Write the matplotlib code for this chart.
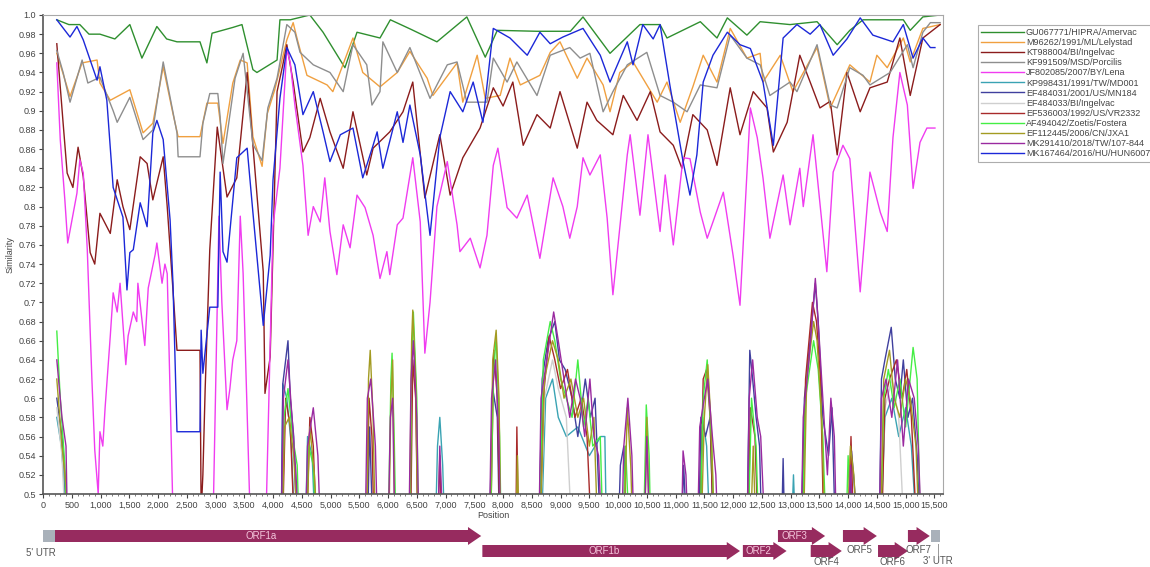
import numpy as np
import matplotlib
matplotlib.use('Agg')
import matplotlib.pyplot as plt
from matplotlib.lines import Line2D

plt.rcParams['font.family'] = ['Liberation Sans', 'DejaVu Sans']

# similarity values, (position, similarity)
gu067771 = [(240,0.995),(450,0.99),(640,0.99),(800,0.98),(990,0.98),(1250,0.975),(1510,0.99),(1720,0.955),
            (1980,0.988),(2150,0.975),(2330,0.972),(2730,0.972),(2850,0.95),(2940,0.981),(3300,0.987),(3460,0.99),
            (3650,0.943),(3720,0.94),(4070,0.953),(4120,0.995),(4300,0.995),(4640,1.0),(4870,0.982),(5250,0.945),
            (5460,0.982),(5860,0.976),(6040,0.995),(6400,0.985),(6850,0.972),(7370,0.998),(7690,0.956),(7900,0.984),
            (8590,0.983),(9170,0.983),(9390,0.998),(9860,0.96),(10380,0.99),(10730,0.99),(10850,0.976),(11430,0.993),
            (11720,0.976),(11900,0.997),(12240,0.979),(12470,0.993),(12990,0.99),(13460,0.993),(13810,0.969),
            (14030,0.984),(14260,0.995),(14960,0.995),(15080,0.984),(15300,0.998),(15600,1.0)]

m96262 = [(240,0.96),(470,0.915),(680,0.95),(940,0.953),(990,0.929),(1170,0.911),(1510,0.922),(1740,0.877),
          (1910,0.887),(2090,0.946),(2260,0.897),(2350,0.873),(2730,0.873),(2850,0.908),(3040,0.908),(3130,0.866),
          (3300,0.929),(3430,0.953),(3550,0.95),(3650,0.873),(3810,0.842),(3900,0.897),(4030,0.922),(4240,0.974),
          (4350,0.992),(4420,0.975),(4590,0.937),(4940,0.927),(5040,0.92),(5390,0.976),(5560,0.94),(5860,0.925),
          (6160,0.94),(6380,0.962),(6680,0.934),(6780,0.916),(7200,0.95),(7300,0.909),(7550,0.958),(7690,0.913),
          (7950,0.916),(8120,0.955),(8300,0.927),(8640,0.937),(8820,0.961),(8990,0.972),(9290,0.934),(9460,0.955),
          (9740,0.927),(9860,0.899),(10030,0.94),(10260,0.951),(10680,0.909),(10850,0.93),(11080,0.888),
          (11300,0.925),(11480,0.958),(11720,0.93),(11950,0.986),(12240,0.955),(12470,0.96),(12520,0.93),
          (12820,0.958),(13040,0.92),(13460,0.966),(13690,0.903),(14030,0.948),(14380,0.93),(14500,0.958),
          (14680,0.945),(14960,0.976),(15080,0.951),(15300,0.986),(15600,0.99)]

kt988004 = [(240,0.97),(300,0.925),(350,0.887),(420,0.835),(520,0.82),(610,0.862),(700,0.831),(820,0.752),
            (900,0.74),(990,0.793),(1170,0.772),(1290,0.828),(1390,0.80),(1510,0.776),(1690,0.852),(1810,0.845),
            (1910,0.807),(2090,0.852),(2160,0.80),(2260,0.713),(2330,0.65),(2730,0.65),(2750,0.48),(2780,0.52),
            (2820,0.61),(2900,0.755),(3030,0.883),(3200,0.81),(3370,0.83),(3550,0.94),(3650,0.864),(3830,0.732),
            (3860,0.605),(3950,0.643),(4070,0.92),(4170,0.948),(4240,0.969),(4350,0.93),(4520,0.857),(4640,0.872),
            (4820,0.913),(4990,0.878),(5220,0.84),(5390,0.899),(5630,0.833),(5740,0.861),(6030,0.878),(6260,0.899),
            (6430,0.93),(6640,0.809),(6900,0.875),(7080,0.812),(7300,0.851),(7600,0.882),(7830,0.924),(8000,0.905),
            (8170,0.93),(8350,0.864),(8590,0.896),(8820,0.882),(8990,0.92),(9290,0.861),(9460,0.909),(9630,0.89),
            (9910,0.875),(10090,0.916),(10330,0.89),(10560,0.92),(10730,0.878),(10960,0.864),(11110,0.84),
            (11300,0.896),(11550,0.88),(11720,0.843),(11950,0.924),(12120,0.875),(12350,0.92),(12590,0.903),
            (12700,0.857),(12940,0.888),(13160,0.958),(13340,0.93),(13510,0.903),(13690,0.91),(13810,0.854),
            (13980,0.94),(14210,0.899),(14380,0.924),(14680,0.93),(14900,0.976),(15080,0.916),(15300,0.976),
            (15600,0.99)]

kf991509 = [(240,0.963),(350,0.94),(470,0.909),(680,0.953),(780,0.929),(990,0.935),(1220,0.90),(1290,0.888),
            (1510,0.914),(1740,0.87),(1910,0.88),(2090,0.951),(2330,0.877),(2350,0.852),(2730,0.852),(2780,0.887),
            (2900,0.918),(3040,0.918),(3080,0.894),(3130,0.845),(3340,0.934),(3480,0.96),(3650,0.865),(3810,0.848),
            (3910,0.903),(4070,0.934),(4240,0.99),(4380,0.982),(4470,0.961),(4700,0.948),(4990,0.94),(5220,0.92),
            (5390,0.969),(5630,0.948),(5720,0.906),(5860,0.92),(5910,0.972),(6160,0.94),(6380,0.966),(6730,0.913),
            (7030,0.948),(7200,0.951),(7370,0.909),(7720,0.909),(7830,0.955),(8070,0.93),(8240,0.951),(8590,0.916),
            (8820,0.958),(9160,0.966),(9340,0.955),(9510,0.96),(9740,0.899),(9910,0.92),(10160,0.948),(10500,0.961),
            (10730,0.916),(10960,0.909),(11200,0.899),(11430,0.927),(11720,0.924),(11950,0.979),(12240,0.955),
            (12470,0.948),(12640,0.916),(12990,0.93),(13110,0.92),(13460,0.969),(13690,0.906),(13810,0.903),
            (14030,0.945),(14260,0.937),(14380,0.927),(14730,0.94),(15030,0.969),(15130,0.945),(15300,0.982),
            (15430,0.992),(15600,0.992)]

jf802085 = [(240,0.95),(300,0.87),(380,0.807),(430,0.762),(590,0.814),(640,0.849),(700,0.835),(770,0.755),
            (850,0.62),(900,0.546),(960,0.50),(990,0.565),(1040,0.55),(1080,0.59),(1110,0.615),(1170,0.665),
            (1220,0.71),(1290,0.69),(1340,0.72),(1440,0.635),(1480,0.665),(1570,0.69),(1630,0.68),(1650,0.72),
            (1770,0.655),(1830,0.715),(1950,0.75),(1980,0.762),(2070,0.72),(2120,0.74),(2160,0.73),(2260,0.48),
            (2960,0.48),(3030,0.70),(3060,0.79),(3110,0.70),(3200,0.588),(3250,0.61),(3300,0.64),(3370,0.66),
            (3430,0.79),(3480,0.73),(3600,0.48),(3880,0.48),(4000,0.78),(4120,0.84),(4240,0.965),(4300,0.95),
            (4380,0.906),(4520,0.843),(4610,0.77),(4700,0.80),(4820,0.784),(4900,0.83),(4990,0.774),(5110,0.729),
            (5220,0.781),(5340,0.757),(5460,0.812),(5600,0.799),(5740,0.77),(5860,0.725),(5980,0.753),(6030,0.729),
            (6160,0.781),(6260,0.788),(6430,0.851),(6560,0.784),(6640,0.647),(6730,0.70),(6850,0.80),(7030,0.847),
            (7200,0.781),(7250,0.753),(7430,0.767),(7600,0.736),(7720,0.77),(7830,0.843),(7910,0.861),(8070,0.799),
            (8240,0.788),(8420,0.812),(8640,0.746),(8870,0.83),(9040,0.80),(9160,0.767),(9290,0.80),(9390,0.851),
            (9510,0.833),(9690,0.854),(9810,0.788),(9910,0.708),(10160,0.854),(10210,0.875),(10380,0.791),
            (10520,0.875),(10730,0.774),(10820,0.833),(10960,0.76),(11130,0.851),(11250,0.85),(11430,0.794),
            (11550,0.767),(11650,0.784),(11830,0.815),(12000,0.749),(12120,0.697),(12300,0.903),(12420,0.872),
            (12520,0.83),(12640,0.767),(12870,0.833),(12990,0.781),(13160,0.84),(13220,0.80),(13390,0.875),
            (13630,0.732),(13740,0.836),(13910,0.864),(14030,0.85),(14210,0.711),(14380,0.836),(14560,0.794),
            (14680,0.774),(14780,0.872),(14900,0.94),(15030,0.906),(15130,0.819),(15250,0.867),(15370,0.882),
            (15510,0.882)]

kp998431 = [(240,0.58),(320,0.55),(380,0.50),(400,0.45),(4140,0.45),(4170,0.615),(4240,0.60),(4320,0.55),(4380,0.45),
            (4560,0.45),(4600,0.56),(4680,0.54),(4740,0.45),(6820,0.45),(6860,0.55),(6900,0.58),(6950,0.53),(6990,0.45),
            (8660,0.45),(8740,0.60),(8860,0.62),(8960,0.58),(9100,0.56),(9300,0.57),(9500,0.54),(9700,0.56),(9770,0.56),
            (9800,0.45),(11420,0.45),(11470,0.58),(11540,0.55),(11600,0.45),(13010,0.45),(13050,0.52),(13090,0.45),
            (14560,0.45),(14640,0.58),(14760,0.60),(14880,0.56),(15000,0.59),(15100,0.55),(15200,0.45)]

ef484031 = [(240,0.60),(330,0.56),(380,0.52),(420,0.45),(4140,0.45),(4170,0.615),(4260,0.66),(4300,0.60),(4360,0.56),
            (4420,0.45),(5640,0.45),(5680,0.57),(5740,0.45),(7760,0.45),(7820,0.61),(7900,0.58),(7940,0.45),
            (8620,0.45),(8680,0.62),(8780,0.66),(8900,0.68),(8980,0.64),(9080,0.63),(9200,0.60),(9300,0.56),(9430,0.62),
            (9520,0.58),(9600,0.60),(9700,0.45),(10000,0.45),(10040,0.53),(10100,0.55),(10150,0.45),(11100,0.45),
            (11140,0.53),(11200,0.45),(11400,0.45),(11440,0.58),(11520,0.56),(11600,0.58),(11660,0.45),(12240,0.45),
            (12290,0.65),(12340,0.62),(12400,0.58),(12460,0.55),(12500,0.45),(12840,0.45),(12870,0.537),(12900,0.45),
            (13180,0.45),(13240,0.60),(13340,0.66),(13430,0.72),(13480,0.68),(13560,0.58),(13660,0.54),(13720,0.59),
            (13780,0.45),(14020,0.45),(14060,0.545),(14120,0.50),(14160,0.45),(14540,0.45),(14580,0.62),(14640,0.64),
            (14750,0.674),(14820,0.62),(14900,0.60),(14960,0.64),(15040,0.58),(15120,0.60),(15200,0.54),(15260,0.45)]

ef484033 = [(240,0.59),(330,0.54),(400,0.45),(8640,0.45),(8720,0.60),(8860,0.64),(8960,0.61),(9100,0.58),(9200,0.45),
            (14560,0.45),(14640,0.59),(14760,0.62),(14880,0.58),(14980,0.45)]

ef536003 = [(4160,0.45),(4220,0.60),(4300,0.57),(4380,0.45),(4580,0.45),(4640,0.58),(4700,0.55),(4760,0.45),
            (5620,0.45),(5670,0.60),(5720,0.56),(5760,0.45),(6390,0.45),(6430,0.64),(6480,0.60),(6520,0.45),
            (6860,0.45),(6900,0.54),(6940,0.45),(7780,0.45),(7840,0.65),(7900,0.60),(7950,0.45),(8220,0.45),
            (8240,0.57),(8270,0.45),(8640,0.45),(8700,0.60),(8800,0.665),(8900,0.64),(9000,0.61),(9120,0.63),
            (9250,0.58),(9360,0.60),(9460,0.56),(9540,0.45),(11420,0.45),(11480,0.62),(11540,0.63),(11600,0.58),
            (11660,0.45),(12260,0.45),(12300,0.59),(12380,0.56),(12440,0.45),(13200,0.45),(13260,0.62),(13380,0.70),
            (13450,0.68),(13520,0.62),(13580,0.45),(14000,0.45),(14050,0.56),(14100,0.45),(14580,0.45),(14640,0.60),
            (14720,0.62),(14840,0.64),(14940,0.60),(15020,0.63),(15100,0.58),(15200,0.45)]

af494042 = [(240,0.67),(300,0.60),(380,0.53),(420,0.45),(4150,0.45),(4190,0.58),(4260,0.61),(4340,0.56),(4420,0.53),
            (4460,0.45),(4560,0.45),(4620,0.55),(4700,0.53),(4760,0.45),(6000,0.45),(6050,0.62),(6070,0.647),(6110,0.55),
            (6140,0.45),(6380,0.45),(6410,0.64),(6440,0.69),(6500,0.60),(6530,0.45),(7780,0.45),(7830,0.62),(7880,0.665),
            (7940,0.56),(7970,0.45),(8620,0.45),(8700,0.64),(8820,0.68),(8900,0.66),(9000,0.62),(9100,0.60),(9200,0.58),
            (9300,0.64),(9400,0.57),(9480,0.60),(9560,0.55),(9690,0.56),(9740,0.45),(10080,0.45),(10130,0.55),(10200,0.45),
            (10440,0.45),(10490,0.593),(10540,0.54),(10570,0.45),(11420,0.45),(11480,0.60),(11550,0.64),(11620,0.56),
            (11680,0.45),(12260,0.45),(12320,0.60),(12400,0.55),(12450,0.45),(13200,0.45),(13260,0.60),(13400,0.66),
            (13480,0.63),(13560,0.56),(13620,0.45),(13960,0.45),(14000,0.54),(14060,0.45),(14560,0.45),(14620,0.60),
            (14700,0.63),(14800,0.59),(14900,0.62),(15000,0.57),(15130,0.653),(15200,0.62),(15260,0.45)]

ef112445 = [(240,0.62),(330,0.55),(400,0.51),(430,0.45),(4150,0.45),(4200,0.57),(4280,0.58),(4360,0.54),(4440,0.45),
            (4580,0.45),(4640,0.57),(4720,0.52),(4780,0.45),(5630,0.45),(5660,0.62),(5690,0.65),(5740,0.58),(5780,0.45),
            (6010,0.45),(6050,0.60),(6080,0.64),(6120,0.45),(6370,0.45),(6410,0.66),(6430,0.692),(6480,0.62),(6520,0.45),
            (7770,0.45),(7820,0.64),(7880,0.671),(7930,0.60),(7960,0.45),(8220,0.45),(8250,0.54),(8280,0.45),
            (8640,0.45),(8720,0.62),(8860,0.66),(8960,0.64),(9060,0.60),(9180,0.62),(9300,0.58),(9400,0.60),(9500,0.55),
            (9580,0.58),(9650,0.45),(10100,0.45),(10160,0.59),(10220,0.53),(10260,0.45),(10460,0.45),(10500,0.58),
            (10550,0.45),(11440,0.45),(11500,0.58),(11560,0.635),(11620,0.57),(11680,0.45),(12300,0.45),(12350,0.55),
            (12400,0.45),(13220,0.45),(13280,0.62),(13400,0.68),(13460,0.66),(13540,0.58),(13600,0.45),(13980,0.45),
            (14040,0.55),(14100,0.52),(14160,0.45),(14560,0.45),(14620,0.62),(14720,0.65),(14800,0.60),(14900,0.58),
            (15000,0.62),(15080,0.60),(15180,0.55),(15240,0.45)]

mk291410 = [(240,0.64),(330,0.58),(400,0.55),(430,0.45),(4140,0.45),(4180,0.60),(4260,0.64),(4330,0.58),(4400,0.52),
            (4450,0.45),(4560,0.45),(4600,0.55),(4700,0.59),(4780,0.54),(4830,0.45),(5600,0.45),(5640,0.60),(5700,0.62),
            (5780,0.55),(5820,0.45),(6000,0.45),(6040,0.58),(6080,0.60),(6120,0.45),(6360,0.45),(6400,0.62),(6440,0.66),
            (6500,0.58),(6540,0.45),(6860,0.45),(6900,0.55),(6960,0.45),(7760,0.45),(7800,0.60),(7870,0.64),(7930,0.55),
            (7960,0.45),(8620,0.45),(8660,0.60),(8760,0.64),(8880,0.69),(8960,0.66),(9060,0.62),(9160,0.58),(9260,0.62),
            (9340,0.60),(9420,0.56),(9510,0.62),(9580,0.56),(9660,0.54),(9720,0.45),(10060,0.45),(10100,0.55),
            (10170,0.60),(10240,0.54),(10280,0.45),(10450,0.45),(10500,0.56),(10550,0.45),(11100,0.45),(11130,0.545),
            (11180,0.52),(11220,0.45),(11380,0.45),(11420,0.57),(11500,0.60),(11560,0.62),(11640,0.56),(11700,0.52),
            (11740,0.45),(12240,0.45),(12280,0.60),(12340,0.64),(12420,0.58),(12480,0.56),(12560,0.45),(13180,0.45),
            (13220,0.58),(13320,0.64),(13430,0.725),(13500,0.66),(13560,0.60),(13640,0.52),(13700,0.60),(13760,0.56),
            (13800,0.45),(14000,0.45),(14040,0.53),(14100,0.45),(14540,0.45),(14580,0.60),(14660,0.62),(14760,0.58),
            (14860,0.64),(14960,0.55),(15050,0.62),(15150,0.60),(15220,0.55),(15280,0.45)]

mk167464 = [(240,0.995),(470,0.977),(590,0.988),(700,0.974),(940,0.932),(990,0.946),(1110,0.911),(1220,0.82),
            (1390,0.789),(1460,0.713),(1510,0.752),(1570,0.755),(1690,0.804),(1810,0.779),(1910,0.877),(1980,0.89),
            (2090,0.87),(2210,0.786),(2260,0.72),(2330,0.565),(2730,0.565),(2750,0.671),(2780,0.626),(2900,0.695),
            (3040,0.695),(3080,0.836),(3130,0.753),(3200,0.742),(3370,0.851),(3550,0.861),(3650,0.794),(3830,0.676),
            (3950,0.749),(4000,0.828),(4120,0.913),(4240,0.966),(4380,0.948),(4520,0.896),(4700,0.92),(4870,0.878),
            (4990,0.847),(5170,0.875),(5390,0.882),(5560,0.83),(5740,0.864),(5810,0.878),(5910,0.84),(6160,0.899),
            (6260,0.867),(6380,0.906),(6560,0.854),(6730,0.77),(6900,0.872),(7080,0.92),(7300,0.899),(7480,0.93),
            (7650,0.888),(7830,0.986),(8120,0.976),(8420,0.958),(8640,0.982),(8820,0.97),(9040,0.977),(9390,0.986),
            (9690,0.958),(9860,0.93),(10160,0.972),(10260,0.948),(10430,0.99),(10610,0.975),(10730,0.99),(10900,0.927),
            (11130,0.847),(11250,0.812),(11370,0.854),(11480,0.93),(11650,0.958),(11900,0.982),(12120,0.969),
            (12300,0.965),(12520,0.93),(12700,0.864),(12870,0.976),(13110,0.99),(13340,0.98),(13510,0.99),
            (13740,0.958),(13980,0.975),(14210,0.997),(14430,0.979),(14780,0.972),(14960,0.99),(15130,0.955),
            (15300,0.976),(15430,0.966),(15510,0.966)]

names = ['GU067771/HIPRA/Amervac', 'M96262/1991/ML/Lelystad', 'KT988004/BI/Ingelvac', 'KF991509/MSD/Porcilis',
         'JF802085/2007/BY/Lena', 'KP998431/1991/TW/MD001', 'EF484031/2001/US/MN184', 'EF484033/BI/Ingelvac',
         'EF536003/1992/US/VR2332', 'AF494042/Zoetis/Fostera', 'EF112445/2006/CN/JXA1', 'MK291410/2018/TW/107-844',
         'MK167464/2016/HU/HUN60077/16']
series = [gu067771, m96262, kt988004, kf991509, jf802085, kp998431, ef484031, ef484033,
          ef536003, af494042, ef112445, mk291410, mk167464]
colors = ['#2f8f2f', '#f0a040', '#8b1c1c', '#8e8e8e', '#f03cf0', '#3aa3b3', '#40409e', '#cfcfcf',
          '#a82a2a', '#44ee44', '#a39b22', '#9a2aa0', '#1c28d8']

# genome map: name, start, end, row (0 upper, 1 lower)
orfs = [('ORF1a', 200, 7620, 0), ('ORF1b', 7640, 12120, 1), ('ORF2', 12170, 12930, 1),
        ('ORF3', 12780, 13600, 0), ('ORF4', 13350, 13890, 1), ('ORF5', 13910, 14500, 0),
        ('ORF6', 14520, 15040, 1), ('ORF7', 15040, 15420, 0)]
utrs = [("5' UTR", 0, 200), ("3' UTR", 15440, 15600)]

fig = plt.figure(figsize=(11.5, 5.67), dpi=100)
ax = fig.add_axes([43/1150, 1-494/567, 900/1150, 479/567])

for pts, c, n in zip(series, colors, names):
    a = np.array(pts)
    ax.plot(a[:, 0], a[:, 1], color=c, lw=1.0, label=n)

ax.set_xlim(0, 15650)
ax.set_ylim(0.5, 1.0)
yt = np.round(np.arange(0.5, 1.0001, 0.02), 2)
ax.set_yticks(yt)
ax.set_yticklabels(['1.0' if v == 1.0 else ('%.2f' % v).rstrip('0') for v in yt])
xt = np.arange(0, 15501, 500)
ax.set_xticks(xt)
ax.set_xticklabels(['{:,}'.format(v) for v in xt])
ax.set_xticks(np.arange(0, 15650, 100), minor=True)
ax.tick_params(labelsize=6.5, colors='#444444', length=3, width=0.8, pad=2)
ax.tick_params(which='minor', length=1.5, width=0.6, colors='#666666')
for s in ['left', 'bottom']:
    ax.spines[s].set_color('#555555')
    ax.spines[s].set_linewidth(1.2)
for s in ['top', 'right']:
    ax.spines[s].set_color('#a8a8a8')
ax.set_xlabel('Position', fontsize=6.5, color='#444444', labelpad=1)
ax.set_ylabel('Similarity', fontsize=6.5, color='#444444', labelpad=3)

handles = [Line2D([], [], color=c, lw=1.0) for c in colors]
leg = fig.legend(handles, names, loc='upper left', bbox_to_anchor=(973/1150, 1-20/567),
                 fontsize=6.5, frameon=True, fancybox=False, edgecolor='#999999',
                 handlelength=4.8, handletextpad=0.15, labelspacing=0.12, borderpad=0.4)
leg.get_frame().set_linewidth(0.8)
for t in leg.get_texts():
    t.set_color('#444444')

# genome organisation below the plot
gax = fig.add_axes([43/1150, 0, 900/1150, 67/567])
gax.set_xlim(0, 15650)
gax.set_ylim(67, 0)
gax.axis('off')
row_y = [36, 51]
body = 6
head = 9
headlen = 230
orf_col = '#972b5f'
for name, s, e, r in orfs:
    y = row_y[r]
    hs = e - headlen
    xs = [s, hs, hs, e, hs, hs, s]
    ys = [y-body, y-body, y-head, y, y+head, y+body, y+body]
    gax.fill(xs, ys, color=orf_col, lw=0)
    if name in ('ORF1a', 'ORF1b', 'ORF2', 'ORF3'):
        gax.text((s+hs)/2, y, name, ha='center', va='center', fontsize=7, color='#f4c6dc')
    elif r == 0:
        gax.text((s+e)/2, y+14, name, ha='center', va='center', fontsize=7, color='#555555')
    else:
        gax.text((s+e)/2, y+11, name, ha='center', va='center', fontsize=7, color='#555555')
for name, s, e in utrs:
    y = row_y[0]
    gax.fill([s, e, e, s], [y-body, y-body, y+body, y+body], color='#a9b1ba', lw=0)
gax.text(-30, 53, "5' UTR", ha='center', va='center', fontsize=7, color='#555555', clip_on=False)
gax.plot([15560, 15560], [44, 55], color='#999999', lw=0.7, clip_on=False)
gax.text(15560, 61, "3' UTR", ha='center', va='center', fontsize=7, color='#555555', clip_on=False)

plt.savefig('out.png', dpi=100)
